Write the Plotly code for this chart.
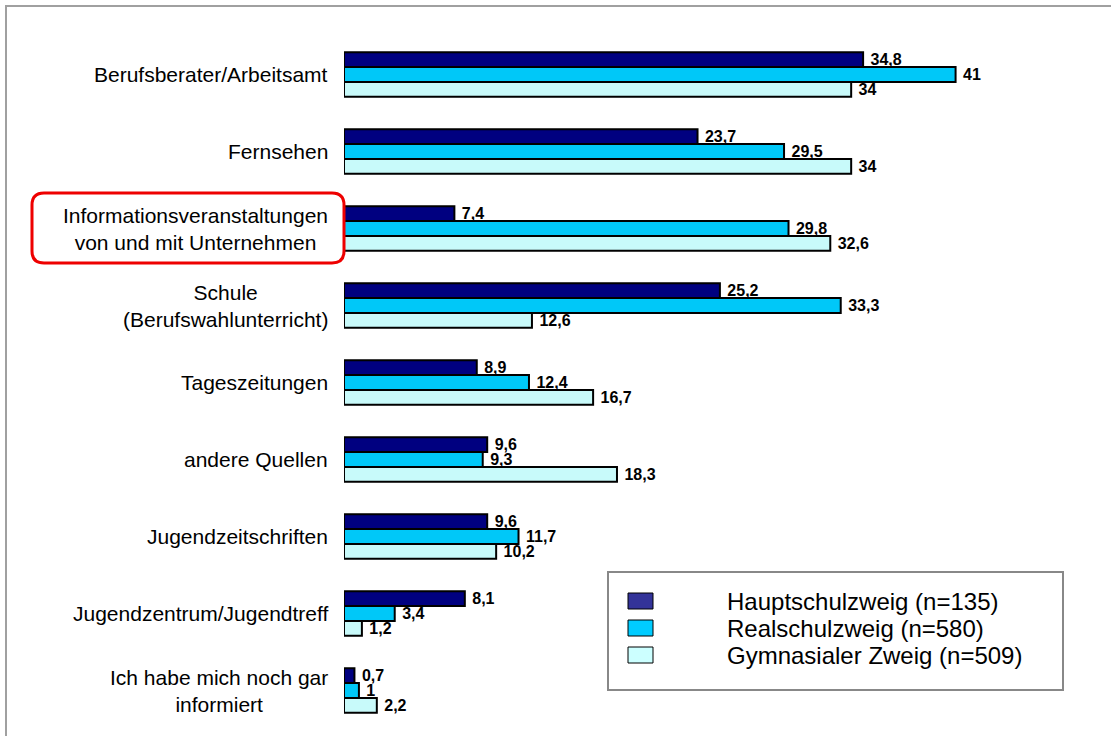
import plotly.graph_objects as go

# categories, top to bottom
categories = [
    "Berufsberater/Arbeitsamt",
    "Fernsehen",
    "Informationsveranstaltungen<br>von und mit Unternehmen",
    "Schule<br>(Berufswahlunterricht)",
    "Tageszeitungen",
    "andere Quellen",
    "Jugendzeitschriften",
    "Jugendzentrum/Jugendtreff",
    "Ich habe mich noch gar<br>informiert",
]

hauptschule = [34.8, 23.7, 7.4, 25.2, 8.9, 9.6, 9.6, 8.1, 0.7]
realschule = [41, 29.5, 29.8, 33.3, 12.4, 9.3, 11.7, 3.4, 1]
gymnasium = [34, 34, 32.6, 12.6, 16.7, 18.3, 10.2, 1.2, 2.2]

series_names = ["Hauptschulzweig (n=135)", "Realschulzweig (n=580)", "Gymnasialer Zweig (n=509)"]
bar_colors = ["#000080", "#00C8F8", "#C8FAFA"]
legend_colors = ["#333399", "#00CCFF", "#CCFFFF"]

W, H = 1111, 736
ML, MR, MT, MB = 344, 51, 36, 7
PW, PH = W - ML - MR, H - MT - MB


def px(x):
    return (x - ML) / PW


def py(y):
    return (H - MB - y) / PH


def lbl(v):
    return "\u00a0" + f"{v:g}".replace(".", ",")


fig = go.Figure()
for name, vals, col in zip(series_names, [hauptschule, realschule, gymnasium], bar_colors):
    fig.add_trace(go.Bar(
        y=categories, x=vals, orientation="h", name=name,
        marker=dict(color=col, line=dict(color="black", width=2)),
        text=[lbl(v) for v in vals], textposition="outside",
        textfont=dict(family="Arial, Liberation Sans", size=16, color="black", weight="bold"),
        cliponaxis=False, showlegend=False,
    ))

annotations = []
for c in categories:
    annotations.append(dict(
        xref="paper", yref="y", x=px(330), y=c, text=c, showarrow=False,
        xanchor="right", align="center",
        font=dict(family="Arial, Liberation Sans", size=21, color="black"),
    ))

shapes = [
    # outer frame
    dict(type="rect", xref="paper", yref="paper", x0=px(6), x1=px(1120), y0=py(745), y1=py(6),
         line=dict(color="#A0A0A0", width=2), layer="below"),
    # red rounded box
    dict(type="path", xref="paper", yref="paper", line=dict(color="#EE0000", width=3)),
    # legend box
    dict(type="rect", xref="paper", yref="paper", x0=px(608), x1=px(1063), y0=py(690), y1=py(572),
         line=dict(color="#888888", width=2), fillcolor="white"),
]

# rounded rectangle path around the highlighted label
x0, x1, y0, y1, r = 32, 344, 193, 263, 12
pts = (f"M {px(x0 + r)},{py(y0)} L {px(x1 - r)},{py(y0)} Q {px(x1)},{py(y0)} {px(x1)},{py(y0 + r)} "
       f"L {px(x1)},{py(y1 - r)} Q {px(x1)},{py(y1)} {px(x1 - r)},{py(y1)} "
       f"L {px(x0 + r)},{py(y1)} Q {px(x0)},{py(y1)} {px(x0)},{py(y1 - r)} "
       f"L {px(x0)},{py(y0 + r)} Q {px(x0)},{py(y0)} {px(x0 + r)},{py(y0)} Z")
shapes[1]["path"] = pts

# legend entries
row_y = [601, 628, 655]
for name, col, yy in zip(series_names, legend_colors, row_y):
    shapes.append(dict(type="rect", xref="paper", yref="paper",
                       x0=px(628), x1=px(653), y0=py(yy + 8), y1=py(yy - 8),
                       fillcolor=col, line=dict(color="black", width=1)))
    annotations.append(dict(xref="paper", yref="paper", x=px(725), y=py(yy), text=name,
                            showarrow=False, xanchor="left", yanchor="middle",
                            font=dict(family="Arial, Liberation Sans", size=24, color="black")))

fig.update_layout(
    width=W, height=H,
    margin=dict(l=ML, r=MR, t=MT, b=MB),
    paper_bgcolor="white", plot_bgcolor="white",
    barmode="group", bargap=0.42, bargroupgap=0,
    xaxis=dict(range=[0, 48], visible=False),
    yaxis=dict(autorange="reversed", showticklabels=False, showgrid=False, zeroline=False,
               showline=False, ticks=""),
    shapes=shapes, annotations=annotations,
    showlegend=False,
)
fig.update_traces(constraintext="none")

fig.write_html("out.html", config={"displayModeBar": False},
               post_script="document.body.style.margin='0';")
